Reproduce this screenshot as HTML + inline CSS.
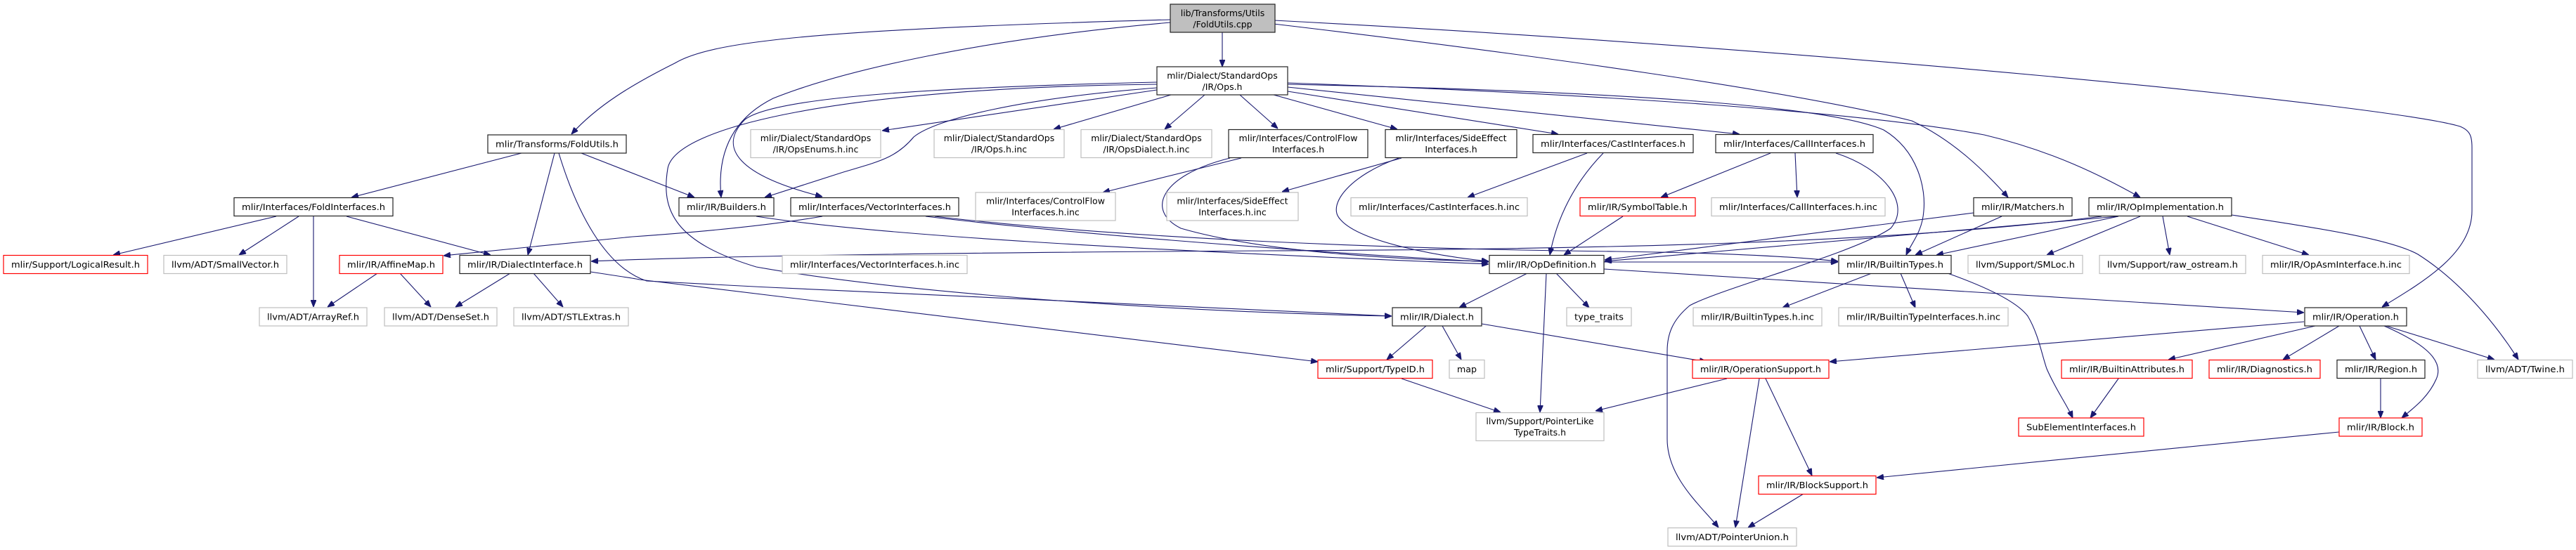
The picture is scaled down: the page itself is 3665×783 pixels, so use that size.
<!DOCTYPE html>
<html><head><meta charset="utf-8"><style>
html,body{margin:0;padding:0;background:#fff;}
svg{display:block;}
text{font-family:"DejaVu Sans","Liberation Sans",sans-serif;font-size:12.5px;fill:#000;}
.e{fill:none;stroke:#191970;stroke-width:1.1;marker-end:url(#a);}
.b{fill:#fff;stroke:#222;stroke-width:1.2;}
.g{fill:#fff;stroke:#bfbfbf;stroke-width:1.2;}
.r{fill:#fff;stroke:#ff0000;stroke-width:1.2;}
</style></head><body>
<svg width="3665" height="783" viewBox="0 0 3665 783" xmlns="http://www.w3.org/2000/svg">
<defs><marker id="a" viewBox="0 0 10 8" refX="10" refY="4" markerWidth="10" markerHeight="8" markerUnits="userSpaceOnUse" orient="auto"><path d="M0,0 L10,4 L0,8 z" fill="#191970" stroke="#191970"/></marker></defs>
<g>
<path class="e" d="M1739,46 L1739,95"/>
<path class="e" d="M1665,28 C1150,42 1010,60 960,90 C900,120 850,150 813,191"/>
<path class="e" d="M1665,32 C1400,55 1200,100 1100,140 C1040,170 1020,220 1026,281"/>
<path class="e" d="M1812,34 C2200,80 2550,130 2720,172 C2780,200 2825,245 2857,281"/>
<path class="e" d="M1813,29 C2600,70 3400,150 3500,180 C3515,186 3517,195 3517,210 L3517,300 C3517,360 3450,400 3389,437"/>
<path class="e" d="M742,218 L500,281"/>
<path class="e" d="M789,218 L751,363"/>
<path class="e" d="M827,218 L988,281"/>
<path class="e" d="M795,218 C820,300 860,380 920,400 C1300,420 1700,440 1980,450"/>
<path class="e" d="M393,308 L161,363"/>
<path class="e" d="M425,308 L340,363"/>
<path class="e" d="M446,308 L446,437"/>
<path class="e" d="M493,308 L698,363"/>
<path class="e" d="M537,389 L466,437"/>
<path class="e" d="M569,389 L613,437"/>
<path class="e" d="M726,389 L648,437"/>
<path class="e" d="M759,389 L801,437"/>
<path class="e" d="M840,387 C880,393 900,396 910,398 L1875,515"/>
<path class="e" d="M1170,308 C1100,320 1000,330 900,337 L631,364"/>
<path class="e" d="M1317,308 C1500,330 1800,355 2118,373"/>
<path class="e" d="M1330,308 C1600,340 2000,355 2300,358 C2450,360 2550,365 2615,372"/>
<path class="e" d="M1076,308 C1250,335 1600,355 2118,376"/>
<path class="e" d="M1646,117 C1300,125 1100,140 1060,170 C1020,210 1050,250 1170,280"/>
<path class="e" d="M1646,125 C1450,140 1330,170 1300,195 C1275,225 1250,230 1200,245 L1088,281"/>
<path class="e" d="M1646,128 L1255,186"/>
<path class="e" d="M1666,135 L1499,184"/>
<path class="e" d="M1714,135 L1657,184"/>
<path class="e" d="M1764,135 L1818,183"/>
<path class="e" d="M1646,120 C1200,125 960,180 950,240 C940,300 960,345 1076,380 C1300,420 1700,445 1980,450"/>
<path class="e" d="M1766,225 L1569,274"/>
<path class="e" d="M1750,225 C1650,250 1630,300 1680,325 C1800,360 2000,370 2118,372"/>
<path class="e" d="M1812,135 L1988,184"/>
<path class="e" d="M1832,130 L2217,191"/>
<path class="e" d="M1832,124 L2475,191"/>
<path class="e" d="M1832,118 C2300,135 2650,160 2823,192 C2920,215 2990,250 3045,281"/>
<path class="e" d="M1832,120 C2300,130 2600,150 2680,185 C2730,215 2740,270 2737,300 C2735,330 2720,345 2712,363"/>
<path class="e" d="M1994,225 L1824,273"/>
<path class="e" d="M1990,225 C1920,250 1890,290 1905,310 C1930,345 2050,365 2118,372"/>
<path class="e" d="M2258,218 L2088,281"/>
<path class="e" d="M2281,218 C2240,260 2215,310 2205,363"/>
<path class="e" d="M2519,218 L2363,281"/>
<path class="e" d="M2554,218 L2557,281"/>
<path class="e" d="M2612,218 C2680,240 2720,290 2690,325 C2640,360 2450,410 2404,435 C2380,455 2372,475 2372,500 L2372,625 C2372,680 2420,720 2445,751"/>
<path class="e" d="M2309,308 L2225,363"/>
<path class="e" d="M2173,389 L2076,438"/>
<path class="e" d="M2200,389 L2191,587"/>
<path class="e" d="M2214,389 L2261,438"/>
<path class="e" d="M2282,383 L3278,445"/>
<path class="e" d="M2282,373 L2615,373"/>
<path class="e" d="M2029,464 L1973,512"/>
<path class="e" d="M2052,464 L2079,512"/>
<path class="e" d="M2108,461 L2428,515"/>
<path class="e" d="M1994,539 L2135,587"/>
<path class="e" d="M2457,539 L2270,585"/>
<path class="e" d="M2503,539 L2469,751"/>
<path class="e" d="M2512,539 L2578,677"/>
<path class="e" d="M2566,703 L2487,751"/>
<path class="e" d="M2663,389 L2536,438"/>
<path class="e" d="M2704,389 L2725,438"/>
<path class="e" d="M3278,458 L2603,515"/>
<path class="e" d="M3328,615 L2670,680"/>
<path class="e" d="M2808,303 L2283,370"/>
<path class="e" d="M2848,308 L2725,363"/>
<path class="e" d="M3014,308 L2283,372"/>
<path class="e" d="M3014,308 L2755,363"/>
<path class="e" d="M3045,308 L2912,363"/>
<path class="e" d="M3077,308 L3087,363"/>
<path class="e" d="M3112,308 L3285,363"/>
<path class="e" d="M3175,306 C3300,325 3400,340 3440,362 C3500,400 3550,460 3583,512"/>
<path class="e" d="M2990,308 C2700,345 2300,355 1800,357 C1300,360 1000,365 841,372"/>
<path class="e" d="M2771,389 C2830,410 2870,430 2885,450 C2900,475 2905,505 2912,525 C2925,555 2940,575 2949,595"/>
<path class="e" d="M3014,539 L2974,595"/>
<path class="e" d="M3294,464 L3085,512"/>
<path class="e" d="M3328,464 L3248,512"/>
<path class="e" d="M3357,464 L3380,512"/>
<path class="e" d="M3392,464 C3440,485 3480,510 3466,540 C3455,565 3435,580 3417,595"/>
<path class="e" d="M3395,464 L3549,512"/>
<path class="e" d="M3387,539 L3387,595"/>
</g>
<g text-anchor="middle">
<rect x="1665" y="6" width="149" height="40" fill="#bfbfbf" stroke="#222" stroke-width="1.2"/><text x="1739.5" y="23">lib/Transforms/Utils</text><text x="1739.5" y="39">/FoldUtils.cpp</text>
<rect class="b" x="1646" y="95" width="186" height="40"/><text x="1739" y="112">mlir/Dialect/StandardOps</text><text x="1739" y="128">/IR/Ops.h</text>
<rect class="b" x="694" y="192" width="197" height="26"/><text x="792.5" y="209.5" textLength="175" lengthAdjust="spacingAndGlyphs">mlir/Transforms/FoldUtils.h</text>
<rect class="g" x="1068" y="184.5" width="185" height="40"/><text x="1160.5" y="201">mlir/Dialect/StandardOps</text><text x="1160.5" y="217">/IR/OpsEnums.h.inc</text>
<rect class="g" x="1329" y="184.5" width="185" height="40"/><text x="1421.5" y="201">mlir/Dialect/StandardOps</text><text x="1421.5" y="217">/IR/Ops.h.inc</text>
<rect class="g" x="1538" y="184.5" width="186" height="40"/><text x="1631" y="201">mlir/Dialect/StandardOps</text><text x="1631" y="217">/IR/OpsDialect.h.inc</text>
<rect class="b" x="1748" y="184.5" width="198" height="40"/><text x="1847" y="201">mlir/Interfaces/ControlFlow</text><text x="1847" y="217">Interfaces.h</text>
<rect class="b" x="1971" y="184.5" width="187" height="40"/><text x="2064.5" y="201">mlir/Interfaces/SideEffect</text><text x="2064.5" y="217">Interfaces.h</text>
<rect class="b" x="2181" y="191.5" width="228" height="26"/><text x="2295" y="209" textLength="206" lengthAdjust="spacingAndGlyphs">mlir/Interfaces/CastInterfaces.h</text>
<rect class="b" x="2441" y="191.5" width="224" height="26"/><text x="2553" y="209" textLength="202" lengthAdjust="spacingAndGlyphs">mlir/Interfaces/CallInterfaces.h</text>
<rect class="b" x="333" y="281.5" width="226" height="26"/><text x="446" y="299" textLength="204" lengthAdjust="spacingAndGlyphs">mlir/Interfaces/FoldInterfaces.h</text>
<rect class="b" x="966" y="281.5" width="135" height="26"/><text x="1033.5" y="299" textLength="113" lengthAdjust="spacingAndGlyphs">mlir/IR/Builders.h</text>
<rect class="b" x="1125" y="281.5" width="239" height="26"/><text x="1244.5" y="299" textLength="217" lengthAdjust="spacingAndGlyphs">mlir/Interfaces/VectorInterfaces.h</text>
<rect class="g" x="1388" y="274" width="199" height="40"/><text x="1487.5" y="290.5">mlir/Interfaces/ControlFlow</text><text x="1487.5" y="306.5">Interfaces.h.inc</text>
<rect class="g" x="1660" y="274" width="187" height="40"/><text x="1753.5" y="290.5">mlir/Interfaces/SideEffect</text><text x="1753.5" y="306.5">Interfaces.h.inc</text>
<rect class="g" x="1922" y="281.5" width="251" height="26"/><text x="2047.5" y="299" textLength="229" lengthAdjust="spacingAndGlyphs">mlir/Interfaces/CastInterfaces.h.inc</text>
<rect class="r" x="2248" y="281.5" width="164" height="26"/><text x="2330" y="299" textLength="142" lengthAdjust="spacingAndGlyphs">mlir/IR/SymbolTable.h</text>
<rect class="g" x="2435" y="281.5" width="247" height="26"/><text x="2558.5" y="299" textLength="225" lengthAdjust="spacingAndGlyphs">mlir/Interfaces/CallInterfaces.h.inc</text>
<rect class="b" x="2808" y="281.5" width="140" height="26"/><text x="2878" y="299" textLength="118" lengthAdjust="spacingAndGlyphs">mlir/IR/Matchers.h</text>
<rect class="b" x="2972" y="281.5" width="203" height="26"/><text x="3073.5" y="299" textLength="181" lengthAdjust="spacingAndGlyphs">mlir/IR/OpImplementation.h</text>
<rect class="r" x="5" y="363.5" width="205" height="26"/><text x="107.5" y="381" textLength="183" lengthAdjust="spacingAndGlyphs">mlir/Support/LogicalResult.h</text>
<rect class="g" x="233" y="363.5" width="175" height="26"/><text x="320.5" y="381" textLength="153" lengthAdjust="spacingAndGlyphs">llvm/ADT/SmallVector.h</text>
<rect class="r" x="483" y="363.5" width="147" height="26"/><text x="556.5" y="381" textLength="125" lengthAdjust="spacingAndGlyphs">mlir/IR/AffineMap.h</text>
<rect class="b" x="654" y="363.5" width="186" height="26"/><text x="747" y="381" textLength="164" lengthAdjust="spacingAndGlyphs">mlir/IR/DialectInterface.h</text>
<rect class="g" x="1113" y="363.5" width="263" height="26"/><text x="1244.5" y="381" textLength="241" lengthAdjust="spacingAndGlyphs">mlir/Interfaces/VectorInterfaces.h.inc</text>
<rect class="b" x="2119" y="363.5" width="163" height="26"/><text x="2200.5" y="381" textLength="141" lengthAdjust="spacingAndGlyphs">mlir/IR/OpDefinition.h</text>
<rect class="b" x="2616" y="363.5" width="160" height="26"/><text x="2696" y="381" textLength="138" lengthAdjust="spacingAndGlyphs">mlir/IR/BuiltinTypes.h</text>
<rect class="g" x="2800" y="363.5" width="163" height="26"/><text x="2881.5" y="381" textLength="141" lengthAdjust="spacingAndGlyphs">llvm/Support/SMLoc.h</text>
<rect class="g" x="2987" y="363.5" width="208" height="26"/><text x="3091" y="381" textLength="186" lengthAdjust="spacingAndGlyphs">llvm/Support/raw_ostream.h</text>
<rect class="g" x="3219" y="363.5" width="209" height="26"/><text x="3323.5" y="381" textLength="187" lengthAdjust="spacingAndGlyphs">mlir/IR/OpAsmInterface.h.inc</text>
<rect class="g" x="369" y="438" width="153" height="26"/><text x="445.5" y="455.5" textLength="131" lengthAdjust="spacingAndGlyphs">llvm/ADT/ArrayRef.h</text>
<rect class="g" x="547" y="438" width="160" height="26"/><text x="627" y="455.5" textLength="138" lengthAdjust="spacingAndGlyphs">llvm/ADT/DenseSet.h</text>
<rect class="g" x="731" y="438" width="163" height="26"/><text x="812.5" y="455.5" textLength="141" lengthAdjust="spacingAndGlyphs">llvm/ADT/STLExtras.h</text>
<rect class="b" x="1981" y="438" width="127" height="26"/><text x="2044.5" y="455.5" textLength="105" lengthAdjust="spacingAndGlyphs">mlir/IR/Dialect.h</text>
<rect class="g" x="2229" y="438" width="92" height="26"/><text x="2275" y="455.5" textLength="70" lengthAdjust="spacingAndGlyphs">type_traits</text>
<rect class="g" x="2409" y="438" width="183" height="26"/><text x="2500.5" y="455.5" textLength="161" lengthAdjust="spacingAndGlyphs">mlir/IR/BuiltinTypes.h.inc</text>
<rect class="g" x="2616" y="438" width="241" height="26"/><text x="2736.5" y="455.5" textLength="219" lengthAdjust="spacingAndGlyphs">mlir/IR/BuiltinTypeInterfaces.h.inc</text>
<rect class="b" x="3279" y="438" width="145" height="26"/><text x="3351.5" y="455.5" textLength="123" lengthAdjust="spacingAndGlyphs">mlir/IR/Operation.h</text>
<rect class="r" x="1875" y="512.5" width="163" height="26"/><text x="1956.5" y="530" textLength="141" lengthAdjust="spacingAndGlyphs">mlir/Support/TypeID.h</text>
<rect class="g" x="2062" y="512.5" width="50" height="26"/><text x="2087" y="530" textLength="28" lengthAdjust="spacingAndGlyphs">map</text>
<rect class="r" x="2408" y="512.5" width="194" height="26"/><text x="2505" y="530" textLength="172" lengthAdjust="spacingAndGlyphs">mlir/IR/OperationSupport.h</text>
<rect class="r" x="2933" y="512.5" width="186" height="26"/><text x="3026" y="530" textLength="164" lengthAdjust="spacingAndGlyphs">mlir/IR/BuiltinAttributes.h</text>
<rect class="r" x="3143" y="512.5" width="158" height="26"/><text x="3222" y="530" textLength="136" lengthAdjust="spacingAndGlyphs">mlir/IR/Diagnostics.h</text>
<rect class="b" x="3325" y="512.5" width="125" height="26"/><text x="3387.5" y="530" textLength="103" lengthAdjust="spacingAndGlyphs">mlir/IR/Region.h</text>
<rect class="g" x="3525" y="512.5" width="135" height="26"/><text x="3592.5" y="530" textLength="113" lengthAdjust="spacingAndGlyphs">llvm/ADT/Twine.h</text>
<rect class="g" x="2100" y="587.5" width="182" height="40"/><text x="2191" y="604">llvm/Support/PointerLike</text><text x="2191" y="620">TypeTraits.h</text>
<rect class="r" x="2872" y="595" width="178" height="26"/><text x="2961" y="612.5" textLength="156" lengthAdjust="spacingAndGlyphs">SubElementInterfaces.h</text>
<rect class="r" x="3328" y="595" width="118" height="26"/><text x="3387" y="612.5" textLength="96" lengthAdjust="spacingAndGlyphs">mlir/IR/Block.h</text>
<rect class="r" x="2502" y="677.5" width="167" height="26"/><text x="2585.5" y="695" textLength="145" lengthAdjust="spacingAndGlyphs">mlir/IR/BlockSupport.h</text>
<rect class="g" x="2373" y="751.5" width="183" height="26"/><text x="2464.5" y="769" textLength="161" lengthAdjust="spacingAndGlyphs">llvm/ADT/PointerUnion.h</text>
</g>
</svg>
</body></html>
